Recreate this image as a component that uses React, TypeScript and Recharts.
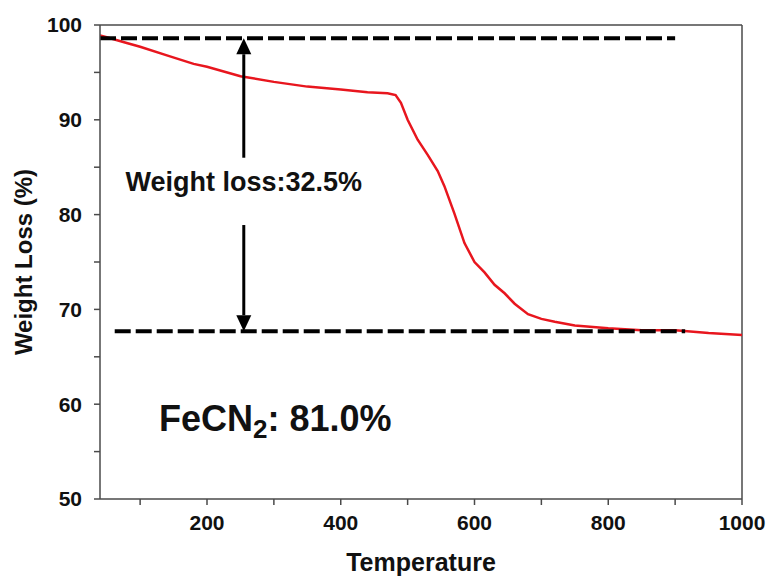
import React from 'react';
import {LineChart, Line, XAxis, YAxis, ReferenceLine, ReferenceDot} from 'recharts';

// TGA curve
const temps = [40, 50, 80, 100, 140, 180, 200, 250, 300, 350, 400, 440, 470, 482, 490, 500, 515, 530, 545, 555, 570, 585, 600, 615, 630, 645, 660, 680, 700, 720, 750, 800, 850, 900, 950, 1000];
const weights = [98.9, 98.7, 98.1, 97.7, 96.8, 95.9, 95.6, 94.6, 94.0, 93.5, 93.2, 92.9, 92.8, 92.6, 91.8, 90.0, 87.9, 86.3, 84.6, 83.0, 80.1, 77.0, 75.0, 73.9, 72.6, 71.7, 70.6, 69.5, 69.0, 68.7, 68.3, 68.0, 67.8, 67.8, 67.5, 67.3];

const xTicks = [100, 200, 300, 400, 500, 600, 700, 800, 900, 1000];
const yTicks = [50, 55, 60, 65, 70, 75, 80, 85, 90, 95, 100];

// dashed levels: [value, from, to]
const upperLevel = [98.6, 40, 900];
const lowerLevel = [67.7, 62, 915];
// arrow pieces: [x, yFrom, yTo] (head at yTo)
const arrowUp = [255, 86.0, 98.6];
const arrowDown = [255, 78.9, 67.7];

const lossText = 'Weight loss:32.5%';
const lossAt = [255, 82.5];
const phaseAt = [302, 57.2];

const data = temps.map((t, i) => ({t, w: weights[i]}));

const FONT = '"Liberation Sans", Arial, sans-serif';
const AXIS = '#4a4a4a';
const TICK = 6;
const X_GAP = 10;
const Y_GAP = 12;

const XTick = (props: any) => {
    const {x, y, payload} = props;
    const major = payload.value % 200 === 0;
    if (!major) return <g/>;
    return (
        <text x={x} y={y} dy="0.71em" textAnchor="middle" fontFamily={FONT} fontWeight="bold" fontSize={21} fill="#111">
            {payload.value}
        </text>
    );
};

const YTick = (props: any) => {
    const {x, y, payload} = props;
    const major = payload.value % 10 === 0;
    if (!major) return <g/>;
    return (
        <text x={x} y={y} dy="0.355em" textAnchor="end" fontFamily={FONT} fontWeight="bold" fontSize={21} fill="#111">
            {payload.value}
        </text>
    );
};

const Arrow = (props: any) => {
    const {x1, y1, x2, y2} = props;
    const dir = y2 > y1 ? 1 : -1;
    const head = 16;
    return (
        <g>
            <line x1={x1} y1={y1} x2={x2} y2={y2 - dir * head} stroke="#000" strokeWidth={3}/>
            <polygon points={`${x2},${y2} ${x2 - 7.5},${y2 - dir * head} ${x2 + 7.5},${y2 - dir * head}`} fill="#000"/>
        </g>
    );
};

export default function App() {
    return (
        <div style={{position: 'absolute', left: 0, top: 0, background: '#fff'}}>
            <LineChart width={772} height={581} data={data} margin={{top: 25, right: 30, bottom: 0, left: 0}}>
                <XAxis
                    dataKey="t"
                    type="number"
                    domain={[40, 1000]}
                    allowDataOverflow
                    ticks={xTicks}
                    interval={0}
                    height={82}
                    tickSize={TICK}
                    tickMargin={X_GAP}
                    tickLine={{stroke: AXIS, strokeWidth: 1.5}}
                    tick={<XTick/>}
                    axisLine={{stroke: AXIS, strokeWidth: 1.5}}
                    label={{
                        content: (p: any) => (
                            <text x={p.viewBox.x + p.viewBox.width / 2} y={p.viewBox.y + 72} textAnchor="middle"
                                  fontFamily={FONT} fontWeight="bold" fontSize={25} fill="#111">Temperature</text>
                        ),
                    }}
                />
                <YAxis
                    type="number"
                    domain={[50, 100]}
                    ticks={yTicks}
                    interval={0}
                    width={100}
                    tickSize={TICK}
                    tickMargin={Y_GAP}
                    tickLine={{stroke: AXIS, strokeWidth: 1.5}}
                    tick={<YTick/>}
                    axisLine={{stroke: AXIS, strokeWidth: 1.5}}
                    label={{
                        content: (p: any) => {
                            const cx = p.viewBox.x + 32;
                            const cy = p.viewBox.y + p.viewBox.height / 2;
                            return (
                                <text x={cx} y={cy} transform={`rotate(-90 ${cx} ${cy})`} textAnchor="middle"
                                      fontFamily={FONT} fontWeight="bold" fontSize={24} fill="#111">Weight Loss (%)</text>
                            );
                        },
                    }}
                />
                <ReferenceLine y={100} stroke={AXIS} strokeWidth={1.5}/>
                <ReferenceLine x={1000} stroke={AXIS} strokeWidth={1.5}/>
                <Line
                    type="linear"
                    dataKey="w"
                    stroke="#e8161e"
                    strokeWidth={2.5}
                    dot={false}
                    isAnimationActive={false}
                />
                <ReferenceLine
                    segment={[{x: upperLevel[1], y: upperLevel[0]}, {x: upperLevel[2], y: upperLevel[0]}]}
                    stroke="#000" strokeWidth={4} strokeDasharray="16 5"
                />
                <ReferenceLine
                    segment={[{x: lowerLevel[1], y: lowerLevel[0]}, {x: lowerLevel[2], y: lowerLevel[0]}]}
                    stroke="#000" strokeWidth={4} strokeDasharray="16 5"
                />
                <ReferenceLine segment={[{x: arrowUp[0], y: arrowUp[1]}, {x: arrowUp[0], y: arrowUp[2]}]} shape={<Arrow/>}/>
                <ReferenceLine segment={[{x: arrowDown[0], y: arrowDown[1]}, {x: arrowDown[0], y: arrowDown[2]}]} shape={<Arrow/>}/>
                <ReferenceDot
                    x={lossAt[0]} y={lossAt[1]} r={0} fill="none" stroke="none"
                    label={{
                        content: (p: any) => (
                            <text x={p.viewBox.x} y={p.viewBox.y} textAnchor="middle" fontFamily={FONT}
                                  fontWeight="bold" fontSize={27} fill="#111">{lossText}</text>
                        ),
                    }}
                />
                <ReferenceDot
                    x={phaseAt[0]} y={phaseAt[1]} r={0} fill="none" stroke="none"
                    label={{
                        content: (p: any) => (
                            <text x={p.viewBox.x} y={p.viewBox.y} textAnchor="middle" fontFamily={FONT}
                                  fontWeight="bold" fontSize={36} fill="#111">
                                FeCN<tspan fontSize={26} dy={7}>2</tspan><tspan dy={-7}>: 81.0%</tspan>
                            </text>
                        ),
                    }}
                />
            </LineChart>
        </div>
    );
}
